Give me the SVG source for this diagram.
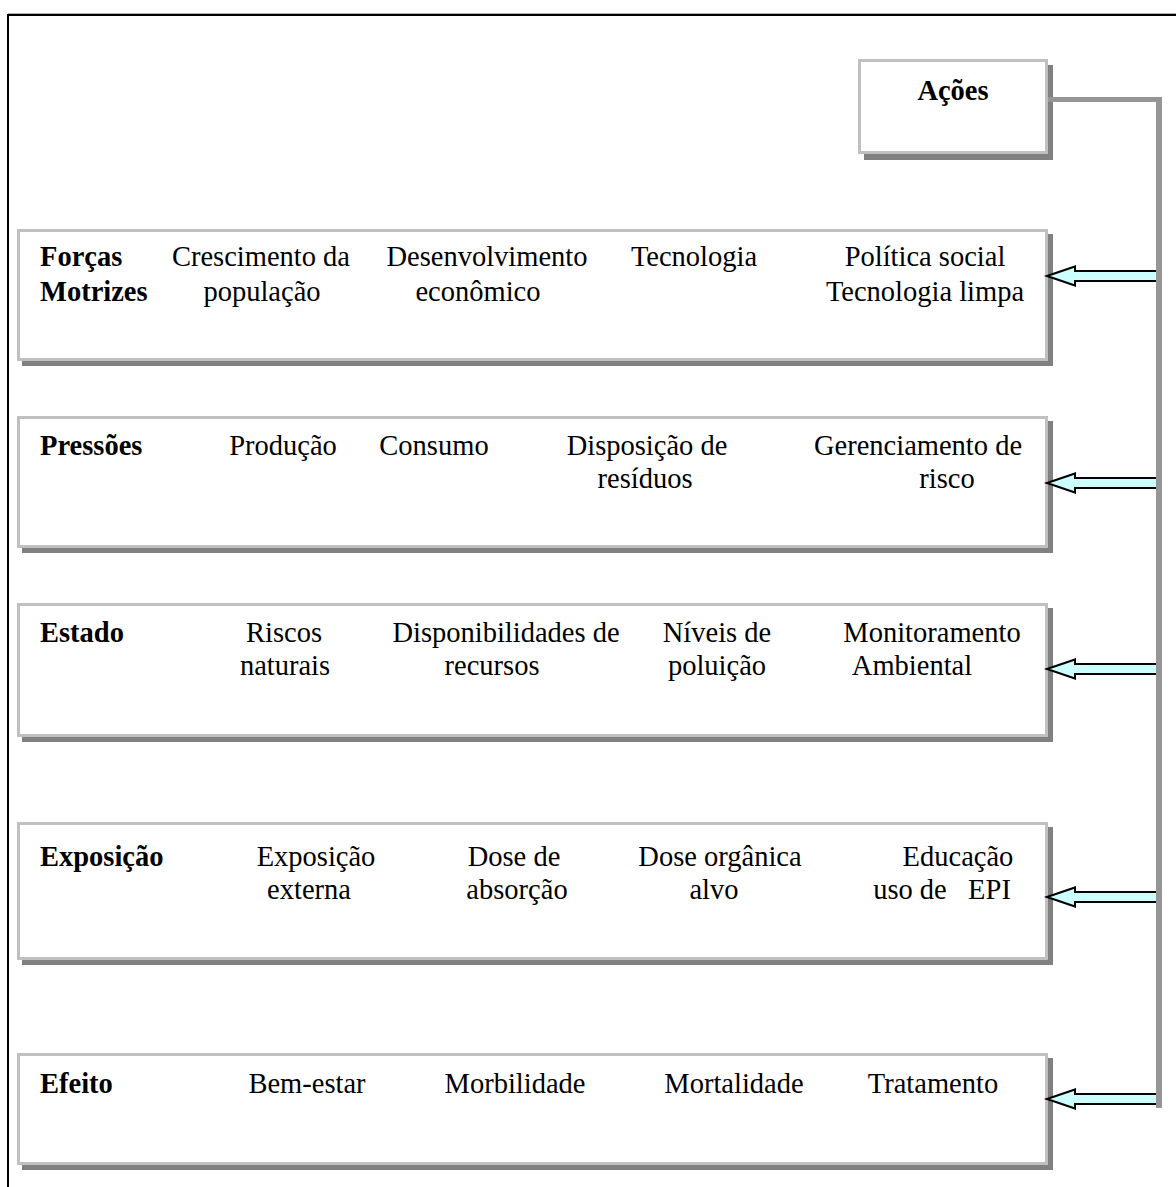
<svg xmlns="http://www.w3.org/2000/svg" width="1176" height="1187" viewBox="0 0 1176 1187">
  <style>
    .box { fill: #ffffff; stroke: #c0c0c0; stroke-width: 3; }
    .shadow { fill: #808080; }
    .t { font-family: "Liberation Serif", "Times New Roman", serif; font-size: 28.5px; fill: #000000; }
    .c { text-anchor: middle; }
    .b { font-weight: bold; }
    .link { fill: none; stroke: #969696; }
    .arrow { fill: #ccffff; stroke: #000000; stroke-width: 2; stroke-linejoin: miter; }
  </style>
  <defs>
    <!-- block arrow pointing left, tip at origin -->
    <polygon id="blockArrow" class="arrow" points="0,0 28,-9.5 28,-5 110,-5 110,5 28,5 28,9.5"/>
  </defs>

  <rect width="1176" height="1187" fill="#ffffff"/>

  <!-- page frame -->
  <g id="frame">
    <line x1="8" y1="13.5" x2="1176" y2="13.5" stroke="#b0b0b0" stroke-width="1"/>
    <line x1="7" y1="15" x2="1176" y2="15" stroke="#000000" stroke-width="2"/>
    <line x1="8" y1="14" x2="8" y2="1187" stroke="#000000" stroke-width="2"/>
  </g>

  <!-- Ações -->
  <g id="acoes">
    <rect class="shadow" x="864" y="65" width="189" height="95"/>
    <rect class="box" x="859.5" y="60.5" width="187" height="92"/>
    <text class="t b c" x="953" y="100">Ações</text>
  </g>

  <!-- Forças Motrizes -->
  <g id="forcas">
    <rect class="shadow" x="22" y="234" width="1031" height="132"/>
    <rect class="box" x="18.5" y="230.5" width="1028" height="129"/>
    <text class="t b" x="40" y="266">Forças</text>
    <text class="t b" x="40" y="301">Motrizes</text>
    <text class="t c" x="261" y="266">Crescimento da</text>
    <text class="t c" x="262" y="301">população</text>
    <text class="t c" x="487" y="266">Desenvolvimento</text>
    <text class="t c" x="478" y="301">econômico</text>
    <text class="t c" x="694" y="266">Tecnologia</text>
    <text class="t c" x="925" y="266">Política social</text>
    <text class="t c" x="925" y="301">Tecnologia limpa</text>
  </g>

  <!-- Pressões -->
  <g id="pressoes">
    <rect class="shadow" x="22" y="421" width="1031" height="132"/>
    <rect class="box" x="18.5" y="417.5" width="1028" height="129"/>
    <text class="t b" x="40" y="455">Pressões</text>
    <text class="t c" x="283" y="455">Produção</text>
    <text class="t c" x="434" y="455">Consumo</text>
    <text class="t c" x="647" y="455">Disposição de</text>
    <text class="t c" x="645" y="488">resíduos</text>
    <text class="t c" x="918" y="455">Gerenciamento de</text>
    <text class="t c" x="947" y="488">risco</text>
  </g>

  <!-- Estado -->
  <g id="estado">
    <rect class="shadow" x="22" y="608" width="1031" height="134"/>
    <rect class="box" x="18.5" y="604.5" width="1028" height="131"/>
    <text class="t b" x="40" y="642">Estado</text>
    <text class="t c" x="284" y="642">Riscos</text>
    <text class="t c" x="285" y="675">naturais</text>
    <text class="t c" x="506" y="642">Disponibilidades de</text>
    <text class="t c" x="492" y="675">recursos</text>
    <text class="t c" x="717" y="642">Níveis de</text>
    <text class="t c" x="717" y="675">poluição</text>
    <text class="t c" x="932" y="642">Monitoramento</text>
    <text class="t c" x="912" y="675">Ambiental</text>
  </g>

  <!-- Exposição -->
  <g id="exposicao">
    <rect class="shadow" x="22" y="827" width="1031" height="138"/>
    <rect class="box" x="18.5" y="823.5" width="1028" height="135"/>
    <text class="t b" x="40" y="866">Exposição</text>
    <text class="t c" x="316" y="866">Exposição</text>
    <text class="t c" x="309" y="899">externa</text>
    <text class="t c" x="514" y="866">Dose de</text>
    <text class="t c" x="517" y="899">absorção</text>
    <text class="t c" x="720" y="866">Dose orgânica</text>
    <text class="t c" x="714" y="899">alvo</text>
    <text class="t c" x="958" y="866">Educação</text>
    <text class="t c" x="942" y="899" xml:space="preserve">uso de   EPI</text>
  </g>

  <!-- Efeito -->
  <g id="efeito">
    <rect class="shadow" x="22" y="1058" width="1031" height="112"/>
    <rect class="box" x="18.5" y="1054.5" width="1028" height="109"/>
    <text class="t b" x="40" y="1093">Efeito</text>
    <text class="t c" x="307" y="1093">Bem-estar</text>
    <text class="t c" x="515" y="1093">Morbilidade</text>
    <text class="t c" x="734" y="1093">Mortalidade</text>
    <text class="t c" x="933" y="1093">Tratamento</text>
  </g>

  <!-- connectors: feedback bus from Ações to each level -->
  <g id="connectors">
    <use href="#blockArrow" x="1047" y="276"/>
    <use href="#blockArrow" x="1047" y="483"/>
    <use href="#blockArrow" x="1047" y="669"/>
    <use href="#blockArrow" x="1047" y="897"/>
    <use href="#blockArrow" x="1047" y="1099"/>
    <line class="link" x1="1048" y1="99.5" x2="1162" y2="99.5" stroke-width="5"/>
    <line class="link" x1="1159" y1="97" x2="1159" y2="1108" stroke-width="6"/>
  </g>
</svg>
